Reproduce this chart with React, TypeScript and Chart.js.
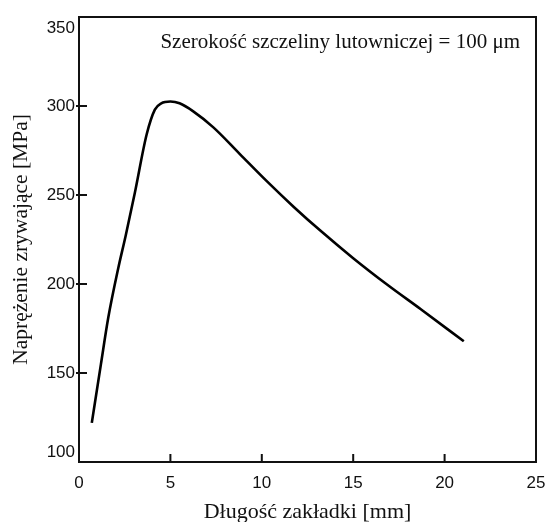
import React, { useEffect, useRef } from "react";
import { Chart, registerables } from "chart.js";

Chart.register(...registerables);

// Lap length [mm]
const lapLengthMm = [0.7, 1.2, 1.6, 2.15, 2.55, 3.05, 3.7, 4.15, 4.5, 5.0, 5.5, 6.25, 7.35, 8.8, 10.3, 11.75, 13.2, 15.0, 16.85, 18.7, 21.05];
// Breaking (shear) stress [MPa]
const breakingStressMPa = [122, 155, 181, 209, 227, 251, 284, 298, 301.5, 302.5, 301.5, 297, 288, 273, 257.5, 243.3, 230, 214.5, 199.7, 185.8, 167.8];

const xTicks = [0, 5, 10, 15, 20, 25];
const yTicks = [100, 150, 200, 250, 300, 350];

const xTitle = "Długość zakładki [mm]";
const yTitle = "Naprężenie zrywające [MPa]";
const annotation = "Szerokość szczeliny lutowniczej = 100 μm";

const SANS = '"Liberation Sans", Arial, sans-serif';
const SERIF = '"Liberation Serif", "Times New Roman", serif';

const framePlugin = {
  id: "frame",
  afterDraw(chart: any) {
    const { ctx, chartArea, scales } = chart;
    const { left, right, top, bottom } = chartArea;
    const x = scales.x;
    const y = scales.y;
    ctx.save();
    ctx.strokeStyle = "#111";
    ctx.lineWidth = 2;
    ctx.strokeRect(left, top, right - left, bottom - top);

    ctx.beginPath();
    xTicks.slice(1, -1).forEach((v) => {
      const px = x.getPixelForValue(v);
      ctx.moveTo(px, bottom);
      ctx.lineTo(px, bottom - 8);
    });
    yTicks.slice(1, -1).forEach((v) => {
      const py = y.getPixelForValue(v);
      ctx.moveTo(left - 3, py);
      ctx.lineTo(left + 8, py);
    });
    ctx.stroke();

    ctx.fillStyle = "#111";
    ctx.font = `17px ${SANS}`;
    ctx.textAlign = "right";
    ctx.textBaseline = "middle";
    yTicks.forEach((v) => {
      const py = y.getPixelForValue(v);
      const ly = Math.min(Math.max(py, top + 11), bottom - 10);
      ctx.fillText(String(v), left - 4, ly);
    });

    ctx.font = `21px ${SERIF}`;
    ctx.textAlign = "right";
    ctx.fillText(annotation, right - 16, top + 25);
    ctx.restore();
  },
};

export default function App() {
  const canvasRef = useRef<HTMLCanvasElement | null>(null);

  useEffect(() => {
    if (!canvasRef.current) return;
    const points = lapLengthMm.map((v, i) => ({ x: v, y: breakingStressMPa[i] }));
    const chart = new Chart(canvasRef.current, {
      type: "scatter",
      data: {
        datasets: [
          {
            data: points,
            showLine: true,
            borderColor: "#000",
            borderWidth: 2.6,
            pointRadius: 0,
            cubicInterpolationMode: "monotone",
            fill: false,
          } as any,
        ],
      },
      options: {
        responsive: false,
        animation: false,
        layout: { padding: { left: 0, right: 11, top: 17, bottom: 0 } },
        plugins: { legend: { display: false }, tooltip: { enabled: false } },
        scales: {
          x: {
            type: "linear",
            min: 0,
            max: 25,
            afterBuildTicks: (scale: any) => {
              scale.ticks = xTicks.map((v) => ({ value: v }));
            },
            afterFit: (scale: any) => {
              scale.height = 60;
              scale.paddingLeft = 0;
              scale.paddingRight = 0;
            },
            grid: { display: false, drawTicks: false },
            border: { display: false },
            ticks: {
              color: "#111",
              font: { family: SANS, size: 17 },
              padding: 11,
              maxRotation: 0,
              autoSkip: false,
            },
            title: {
              display: true,
              text: xTitle,
              color: "#111",
              font: { family: SERIF, size: 22, lineHeight: 1 },
              padding: { top: 0, bottom: -1 },
            },
          },
          y: {
            type: "linear",
            min: 100,
            max: 350,
            afterBuildTicks: (scale: any) => {
              scale.ticks = yTicks.map((v) => ({ value: v }));
            },
            afterFit: (scale: any) => {
              scale.width = 79;
              scale.paddingTop = 0;
              scale.paddingBottom = 0;
            },
            grid: { display: false, drawTicks: false },
            border: { display: false },
            ticks: { display: false },
            title: {
              display: true,
              text: yTitle,
              color: "#111",
              font: { family: SERIF, size: 21.5, lineHeight: 1 },
              padding: { top: 11, bottom: 0 },
            },
          },
        },
      },
      plugins: [framePlugin],
    });
    return () => chart.destroy();
  }, []);

  return (
    <div style={{ position: "fixed", left: 0, top: 0, width: 547, height: 522, background: "#fff" }}>
      <canvas ref={canvasRef} width={547} height={522} />
    </div>
  );
}
